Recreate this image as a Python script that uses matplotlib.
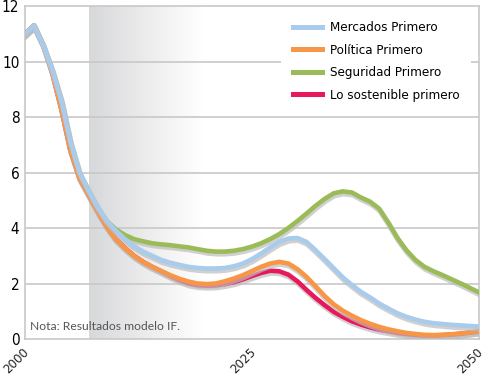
import numpy as np
import matplotlib
matplotlib.use('Agg')
import matplotlib.pyplot as plt
import matplotlib.patheffects as pe
import matplotlib.transforms as mtrans
from matplotlib import font_manager as fm
from matplotlib.colors import LinearSegmentedColormap

years = list(range(2000, 2051))

mercados = [11.0, 11.3, 10.6, 9.7, 8.6, 7.1, 6.0, 5.35, 4.75, 4.25,
            3.9, 3.6, 3.35, 3.15, 3.0, 2.85, 2.75, 2.67, 2.6, 2.56,
            2.54, 2.54, 2.56, 2.62, 2.72, 2.88, 3.08, 3.3, 3.5, 3.62,
            3.64, 3.5, 3.2, 2.88, 2.55, 2.22, 1.95, 1.7, 1.5, 1.28,
            1.1, 0.93, 0.8, 0.7, 0.62, 0.57, 0.54, 0.51, 0.49, 0.47,
            0.45]
politica = [11.0, 11.3, 10.6, 9.6, 8.3, 6.8, 5.8, 5.2, 4.6, 4.05,
            3.6, 3.28, 3.0, 2.78, 2.6, 2.45, 2.3, 2.17, 2.07, 2.0,
            1.98, 2.0, 2.08, 2.18, 2.3, 2.45, 2.6, 2.72, 2.78, 2.72,
            2.52, 2.24, 1.9, 1.55, 1.25, 1.02, 0.84, 0.68, 0.55, 0.44,
            0.35, 0.28, 0.22, 0.18, 0.15, 0.14, 0.15, 0.17, 0.2, 0.24,
            0.28]
seguridad = [11.0, 11.3, 10.6, 9.7, 8.6, 7.1, 6.0, 5.35, 4.75, 4.25,
             3.95, 3.75, 3.6, 3.52, 3.45, 3.41, 3.38, 3.34, 3.3, 3.24,
             3.18, 3.15, 3.15, 3.18, 3.24, 3.33, 3.45, 3.6, 3.78, 4.0,
             4.25, 4.52, 4.8, 5.05, 5.25, 5.32, 5.28, 5.1, 4.95, 4.7,
             4.2, 3.65, 3.2, 2.85, 2.6, 2.44, 2.3, 2.15, 2.0, 1.84,
             1.68]
sostenible = [11.0, 11.3, 10.6, 9.6, 8.3, 6.8, 5.8, 5.2, 4.6, 4.05,
              3.6, 3.28, 3.0, 2.78, 2.6, 2.44, 2.27, 2.12, 2.0, 1.94,
              1.92, 1.93, 1.98, 2.05, 2.15, 2.27, 2.38, 2.46, 2.44, 2.32,
              2.08, 1.77, 1.48, 1.22, 0.98, 0.8, 0.64, 0.52, 0.42, 0.34,
              0.28, 0.22, 0.18, 0.15, 0.13, 0.13, 0.14, 0.16, 0.19, 0.23,
              0.27]

series = [
    ('Mercados Primero', mercados, '#a9cbec'),
    ('Política Primero', politica, '#f79646'),
    ('Seguridad Primero', seguridad, '#9bbb59'),
    ('Lo sostenible primero', sostenible, '#e8185c'),
]
# bottom to top: blue sits over everything
draw_order = [3, 2, 1, 0]

# pick a narrow face if one is around
narrow_fp = None
for f in fm.fontManager.ttflist:
    if 'Narrow' in f.name or 'Condensed' in f.name or f.stretch in ('condensed', 'semi-condensed'):
        if 'Bold' not in f.fname and 'Oblique' not in f.fname and 'Italic' not in f.fname:
            narrow_fp = f.fname
            break

def nprop(size):
    if narrow_fp:
        return fm.FontProperties(fname=narrow_fp, size=size)
    return fm.FontProperties(family='DejaVu Sans', stretch='condensed', size=size)

fig = plt.figure(figsize=(4.86, 3.77), dpi=100)
ax = fig.add_axes([0.0514, 0.1008, 0.9342, 0.8832])

# shaded band, grey fading to white
cmap = LinearSegmentedColormap.from_list('fade', ['#d7d8da', '#ececed', '#ffffff'])
grad = np.linspace(0, 1, 256).reshape(1, -1)
ax.imshow(grad, cmap=cmap, extent=[2007, 2019.5, 0, 12], aspect='auto', zorder=0)

for y in [2, 4, 6, 8, 10]:
    ax.axhline(y, color='#c8c8c8', lw=1.2, zorder=1)

for k, i in enumerate(draw_order):
    name, vals, col = series[i]
    ax.plot(years, vals, color=col, lw=3.3, zorder=3 + k, solid_joinstyle='round',
            path_effects=[pe.SimpleLineShadow(offset=(0.6, -1.6), shadow_color='#bdbdbd',
                                              alpha=0.7, linewidth=4.0),
                          pe.Normal()])

ax.set_xlim(2000, 2050)
ax.set_ylim(0, 12)
ax.set_xticks([2000, 2025, 2050])
ax.set_yticks([0, 2, 4, 6, 8, 10, 12])
ax.tick_params(length=0)
ax.tick_params(axis='y', pad=4)
ax.tick_params(axis='x', pad=0)
shift = mtrans.ScaledTranslation(1 / 100, -10 / 100, fig.dpi_scale_trans)
for lab in ax.get_yticklabels():
    lab.set_fontproperties(nprop(11))
for lab in ax.get_xticklabels():
    lab.set_fontproperties(nprop(9.5))
    lab.set_rotation(45)
    lab.set_ha('right')
    lab.set_va('center_baseline')
    lab.set_rotation_mode('anchor')
    lab.set_color('#222222')
    lab.set_transform(lab.get_transform() + shift)

for s in ax.spines.values():
    s.set_color('#c8c8c8')
    s.set_linewidth(1.2)

ax.text(2000.6, 0.45, 'Nota: Resultados modelo IF.', fontsize=8.7, color='#555555',
        family='Lato', va='center', ha='left', zorder=10)

handles = [plt.Line2D([], [], color=s[2], lw=3.6) for s in series]
leg = ax.legend(handles, [s[0] for s in series], loc='upper right',
                bbox_to_anchor=(0.997, 1.01), frameon=True, fancybox=False,
                edgecolor='none', facecolor='white', framealpha=1,
                prop=nprop(9.5), handlelength=2.2,
                labelspacing=0.72, borderpad=0.9, handletextpad=0.6)
leg.set_zorder(20)

fig.savefig('out.png', dpi=100)
